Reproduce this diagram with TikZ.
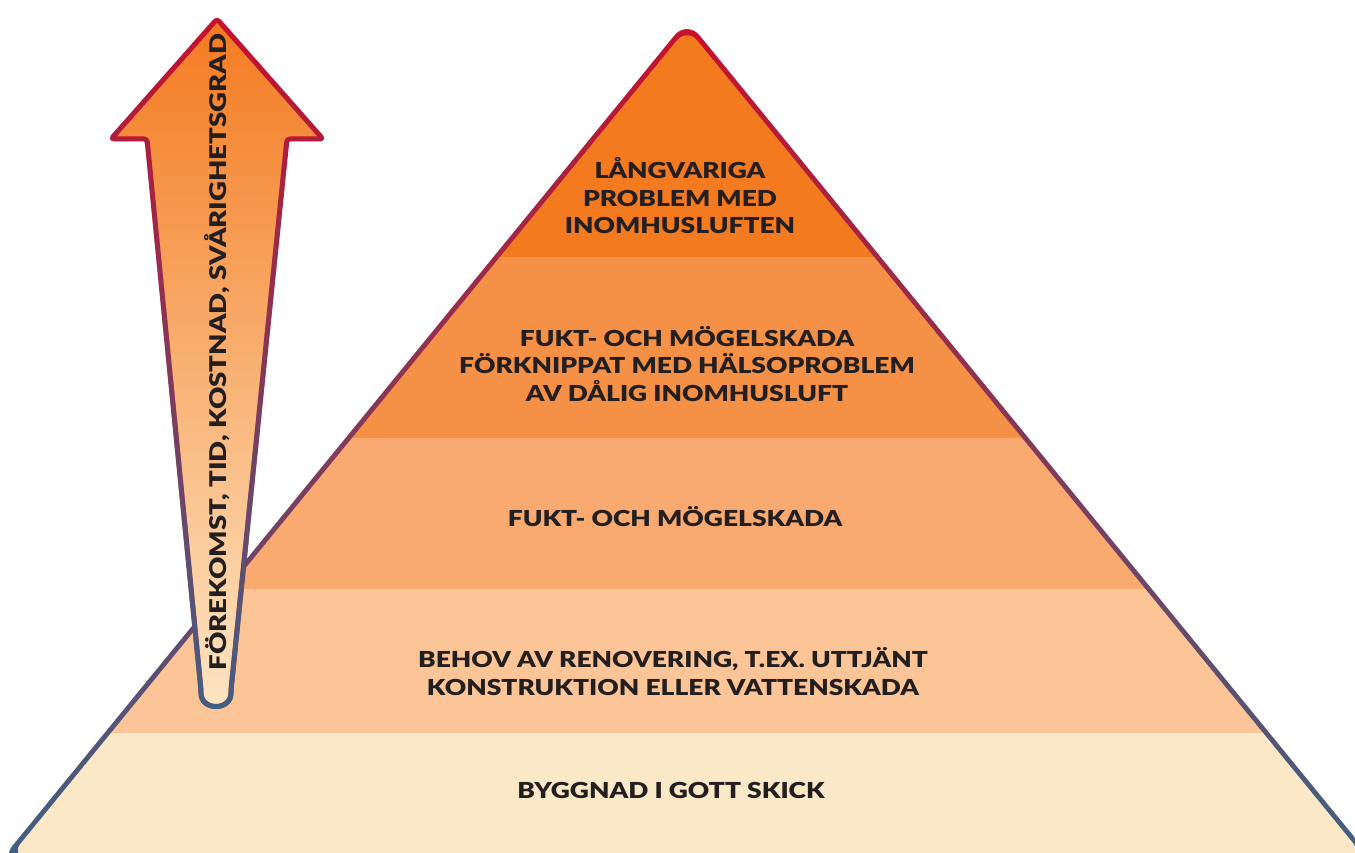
\documentclass[tikz,border=0pt]{standalone}
\usepackage{fontspec}
\setmainfont{Lato}
\newfontfamily\labelfont{Lato Black}[FakeStretch=1.2]
\usetikzlibrary{fadings}

\definecolor{edgered}{HTML}{C8102E}
\definecolor{edgeblue}{HTML}{3F6184}
\colorlet{edgemid}{edgered!65!edgeblue}
\definecolor{tierA}{HTML}{F47A20}
\definecolor{tierB}{HTML}{F59146}
\definecolor{tierC}{HTML}{F8AA70}
\definecolor{tierD}{HTML}{FCC598}
\definecolor{tierE}{HTML}{FBE8C6}
\definecolor{arrowtop}{HTML}{F47A20}
\definecolor{arrowmid}{HTML}{F9AF72}
\definecolor{arrowbot}{HTML}{FDE6C4}
\definecolor{ink}{HTML}{231F20}

% blue part of the arrow outline, opaque at the bottom and fading out upwards
\tikzfading[name=edgefade, top color=transparent!100, middle color=transparent!70, bottom color=transparent!0]

\begin{document}
\begin{tikzpicture}[x=1pt,y=-1pt,
  tierlabel/.style={font=\labelfont\fontsize{22}{27.5}\selectfont, text=ink, align=center, inner sep=0pt},
  outline/.style={line width=5pt, line join=round}]
\useasboundingbox (0,0) rectangle (1355,853);
\clip (0,0) rectangle (1355,853);

% pyramid rim: a shaded outer triangle, red above and blue below
\shade[top color=edgered, middle color=edgemid, bottom color=edgeblue, rounded corners=20pt]
  (687,20) -- (1374,861) -- (0,861) -- cycle;

% pyramid tiers inside the rim
\begin{scope}
  \clip[rounded corners=16pt] (687,28) -- (1363.5,856) -- (10.5,856) -- cycle;
  \fill[tierA] (0,0) rectangle (1355,257);
  \fill[tierB] (0,257) rectangle (1355,438);
  \fill[tierC] (0,438) rectangle (1355,589);
  \fill[tierD] (0,589) rectangle (1355,733);
  \fill[tierE] (0,733) rectangle (1355,860);
\end{scope}

% tier labels
\node[tierlabel] (t1) at (680,196) {LÅNGVARIGA\\PROBLEM MED\\INOMHUSLUFTEN};
\node[tierlabel] (t2) at (687,364) {FUKT- OCH MÖGELSKADA\\FÖRKNIPPAT MED HÄLSOPROBLEM\\AV DÅLIG INOMHUSLUFT};
\node[tierlabel] (t3) at (675,517) {FUKT- OCH MÖGELSKADA};
\node[tierlabel] (t4) at (673,671.5) {BEHOV AV RENOVERING, T.EX. UTTJÄNT\\KONSTRUKTION ELLER VATTENSKADA};
\node[tierlabel] (t5) at (671,790) {BYGGNAD I GOTT SKICK};

% tapering arrow
\shade[top color=arrowtop, middle color=arrowmid, bottom color=arrowbot, rounded corners=3pt]
  (217,19) -- (323,139) -- (287,139) -- (231,690) .. controls (231,711) and (201,711) .. (201,690) -- (147,139) -- (111,139) -- cycle;
\draw[outline, edgered, rounded corners=3pt]
  (217,19) -- (323,139) -- (287,139) -- (231,690) .. controls (231,711) and (201,711) .. (201,690) -- (147,139) -- (111,139) -- cycle;
\draw[outline, edgeblue, path fading=edgefade, rounded corners=3pt]
  (217,19) -- (323,139) -- (287,139) -- (231,690) .. controls (231,711) and (201,711) .. (201,690) -- (147,139) -- (111,139) -- cycle;

\node[tierlabel, font=\labelfont\fontsize{23}{27}\selectfont, rotate=90] (axis) at (217,352) {FÖREKOMST, TID, KOSTNAD, SVÅRIGHETSGRAD};
\end{tikzpicture}
\end{document}
